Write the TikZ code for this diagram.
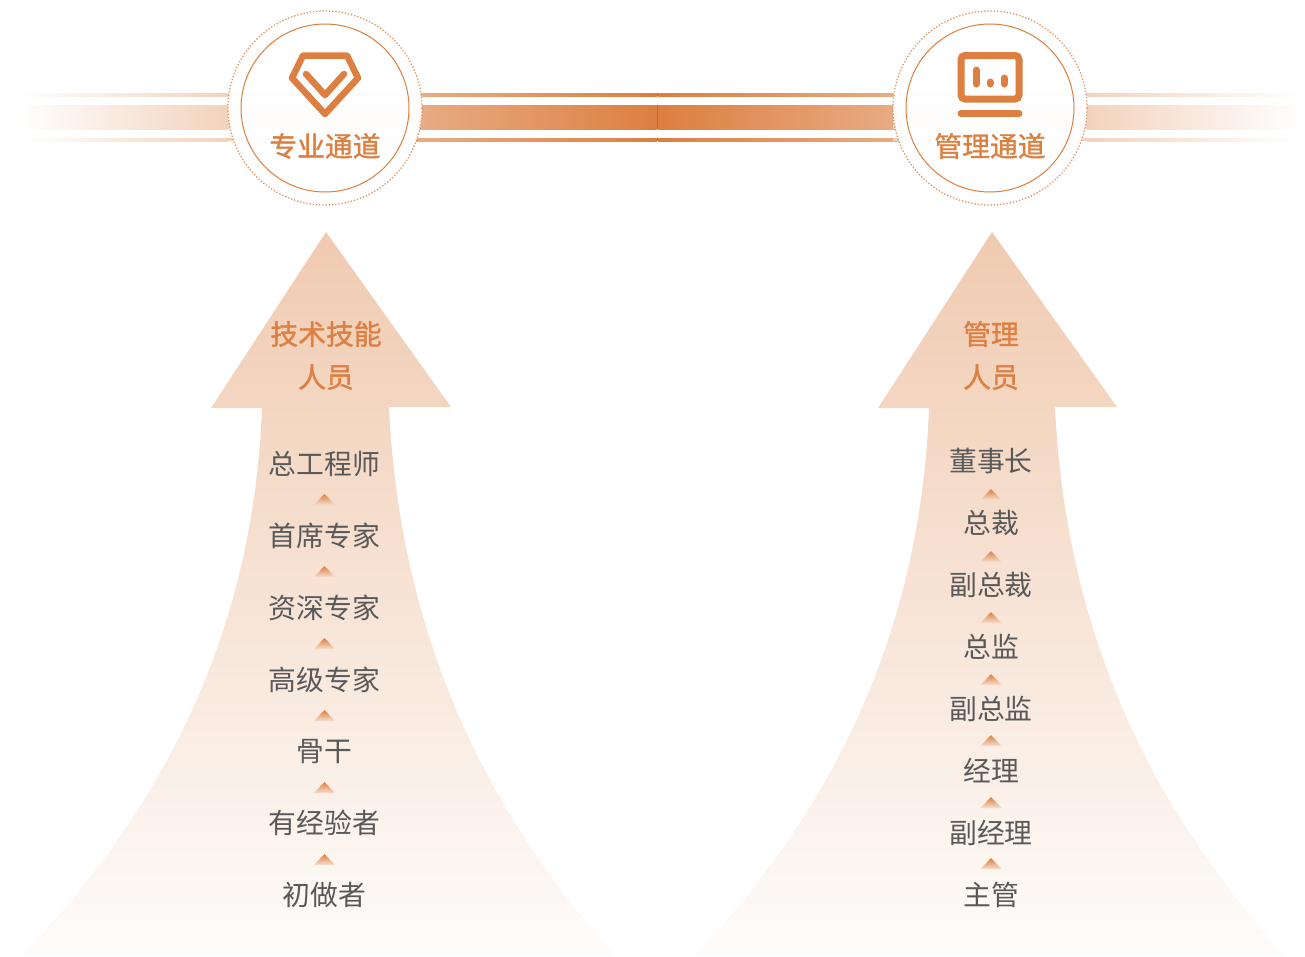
\documentclass[tikz,border=0pt]{standalone}
\usepackage{fontspec}
\setmainfont{Noto Sans CJK SC}
\newfontfamily\headfont[FakeBold=1.2]{Noto Sans CJK SC}
\usetikzlibrary{shapes.geometric}
\definecolor{accent}{HTML}{DC7F40}
\definecolor{barmid}{HTML}{E8AC85}
\definecolor{barpale}{HTML}{F2D2BC}
\definecolor{arrowtop}{HTML}{F0CAB0}
\definecolor{arrowbot}{HTML}{FEFCFA}
\definecolor{rank}{HTML}{595959}

\begin{document}
\begin{tikzpicture}[x=1pt,y=-1pt]

\tikzset{rankname/.style = {text=rank,font=\fontsize{27.8}{27.8}\selectfont,inner sep=0pt}}
\tikzset{headname/.style = {text=accent,font=\fontsize{27.8}{27.8}\headfont,inner sep=0pt}}
\tikzset{uptick/.style = {top color=accent,bottom color=accent!25}}
\tikzset{ring/.style = {draw=accent,line width=1pt}}
\tikzset{dotring/.style = {draw=accent!85,line width=1.3pt,dash pattern=on 1.3pt off 1.9pt,fill=white,fill opacity=.96}}
\tikzset{iconline/.style = {draw=accent,line width=6.5pt,line join=round,line cap=round}}
\tikzset{iconbar/.style = {draw=accent,line width=7pt,line cap=round}}

\useasboundingbox (0,0) rectangle (1305,956);

%bars
\foreach \ya/\yb in {93/96,105/129,138/141}{
  \shade[left color=white,right color=barpale] (18,\ya) rectangle (228,\yb);
  \fill[barpale] (228,\ya) rectangle (422,\yb);
  \shade[left color=barmid,right color=accent] (416,\ya) rectangle (657,\yb);
  \shade[left color=accent,right color=barmid] (658,\ya) rectangle (899,\yb);
  \fill[barpale] (893,\ya) rectangle (1087,\yb);
  \shade[left color=barpale,right color=white] (1087,\ya) rectangle (1300,\yb);
  \fill[accent!85!black] (657,\ya) rectangle (658.4,\yb);
}

%badges
\node[circle,dotring,minimum size=194pt] (ringA) at (325,108) {};
\node[circle,dotring,minimum size=194pt] (ringB) at (990,108) {};
\node[circle,ring,minimum size=168pt] (badgeA) at (325,108) {};
\node[circle,ring,minimum size=168pt] (badgeB) at (990,108) {};
\node[headname] (laneA) at (325,146) {专业通道};
\node[headname] (laneB) at (990,146) {管理通道};

%gem icon
\draw[iconline] (303,55.5) -- (347,55.5) -- (358,78) -- (325,114) -- (292,78) -- cycle;
\draw[iconline] (306,74) -- (325,95) -- (344,74);

%screen icon
\draw[draw=accent,line width=7pt,rounded corners=4pt] (961,55.5) rectangle (1019,99);
\draw[iconbar] (976,70) -- (976,84);
\draw[iconbar] (990,82) -- (990,84);
\draw[iconbar] (1004,78) -- (1004,84);
\draw[iconbar] (961,113.5) -- (1019,113.5);

%big arrows
\shade[top color=arrowtop,bottom color=arrowbot]
  (326,232) -- (451,407) -- (389,407)
  .. controls (399,620) and (475,800) .. (615,955)
  -- (22,955)
  .. controls (172,800) and (254,620) .. (262,408)
  -- (211,408) -- cycle;
\shade[top color=arrowtop,bottom color=arrowbot]
  (992,232) -- (1117,407) -- (1055,407)
  .. controls (1065,620) and (1142,800) .. (1285,955)
  -- (695,955)
  .. controls (842,800) and (921,620) .. (929,408)
  -- (878,408) -- cycle;

%titles
\node[headname] (headA) at (326,334) {技术技能};
\node[headname] (staffA) at (326,377) {人员};
\node[headname] (headB) at (991,334) {管理};
\node[headname] (staffB) at (991,377) {人员};

%left ranks
\foreach \name/\y/\label in {a1/464/总工程师,a2/536/首席专家,a3/608/资深专家,a4/680/高级专家,a5/752/骨干,a6/823/有经验者,a7/895/初做者}
  \node[rankname] (\name) at (324.5,\y) {\label};
\foreach \y in {494,566,638,710,782,854}
  \shade[uptick] (324.5,\y) -- (335,\y+11) -- (314,\y+11) -- cycle;

%right ranks
\foreach \name/\y/\label in {b1/461/董事长,b2/523/总裁,b3/585/副总裁,b4/647/总监,b5/709/副总监,b6/771/经理,b7/833/副经理,b8/895/主管}
  \node[rankname] (\name) at (991,\y) {\label};
\foreach \y in {489,551,612,674,735,797,858}
  \shade[uptick] (991,\y) -- (1001.5,\y+11) -- (980.5,\y+11) -- cycle;

\end{tikzpicture}
\end{document}
